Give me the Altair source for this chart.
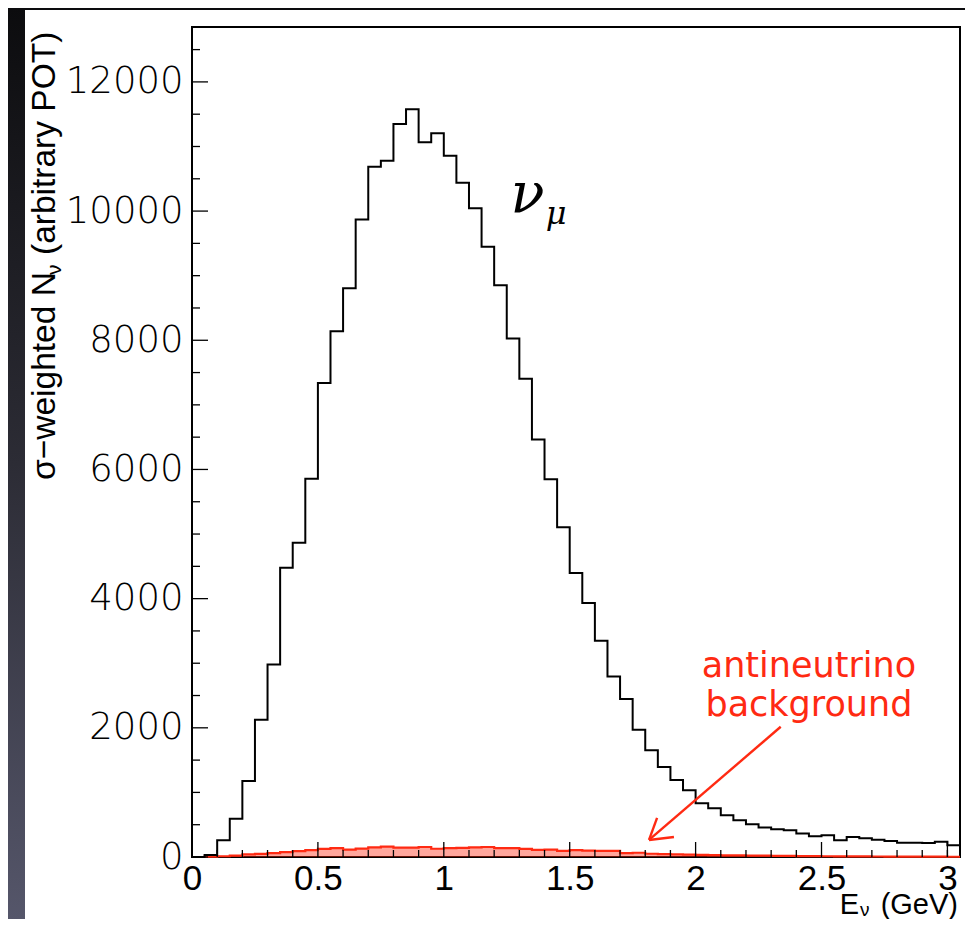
import altair as alt
import pandas as pd

# ---------------- data ----------------
BIN_WIDTH = 0.05  # GeV
numu = [0, 30, 260, 594, 1178, 2124, 2982, 4480, 4864, 5856,
        7338, 8140, 8806, 9871, 10687, 10780, 11349, 11576, 11065, 11204,
        10857, 10439, 10042, 9447, 8853, 8026, 7406, 6465, 5850, 5106,
        4395, 3933, 3349, 2796, 2445, 1969, 1654, 1395, 1194, 1034,
        833, 755, 646, 569, 507, 455, 429, 414, 362, 321,
        336, 259, 310, 290, 268, 248, 222, 222, 217, 237, 181]
anti = [0, 5, 12, 22, 40, 48, 60, 75, 90, 105,
        125, 138, 115, 130, 150, 160, 145, 145, 155, 128,
        138, 140, 150, 155, 136, 136, 126, 110, 115, 96,
        105, 100, 95, 95, 60, 66, 50, 46, 42, 37,
        32, 29, 26, 24, 22, 20, 18, 16, 15, 13,
        12, 11, 10, 9, 8, 7, 6, 6, 5, 5, 4]

x_major = [0, 0.5, 1, 1.5, 2, 2.5, 3]
x_minor = [0.1, 0.2, 0.3, 0.4, 0.6, 0.7, 0.8, 0.9, 1.1, 1.2, 1.3, 1.4,
           1.6, 1.7, 1.8, 1.9, 2.1, 2.2, 2.3, 2.4, 2.6, 2.7, 2.8, 2.9, 3.0]
y_major = [0, 2000, 4000, 6000, 8000, 10000, 12000]
y_minor = [500, 1000, 1500, 2500, 3000, 3500, 4500, 5000, 5500, 6500, 7000,
           7500, 8500, 9000, 9500, 10500, 11000, 11500, 12500]

# annotation arrow (data units): shaft and two head strokes
arrow_x = [2.338, 1.815, 1.815]
arrow_y = [2016, 264, 264]
arrow_x2 = [1.815, 1.847, 1.914]
arrow_y2 = [264, 605, 310]

red_text = ["antineutrino", "background"]
red_text_x = [2.45, 2.45]
red_text_y = [2780, 2186]

# ---------------- layout ----------------
W, H = 768, 830
RED = "#ff2a12"

n = len(numu)
edges = [round(i * BIN_WIDTH, 4) for i in range(n + 1)]
hist = pd.DataFrame({"e": edges,
                     "numu": numu + [numu[-1]],
                     "anti": anti + [anti[-1]]})

xs = alt.Scale(domain=[0, 3.05], nice=False, zero=False)
ys = alt.Scale(domain=[0, 12850], nice=False)

xaxis = alt.Axis(values=x_major, format="~g", title=None, ticks=False,
                 domain=False, grid=False, labelFont="Liberation Sans",
                 labelFontSize=35, labelColor="black", labelPadding=4,
                 labelFlush=False, labelOverlap=False, zindex=1)
yaxis = alt.Axis(values=y_major, format="d", title=None, ticks=False,
                 domain=False, grid=False, labelFont="DejaVu Sans",
                 labelFontSize=37, labelFontWeight=200, labelColor="black",
                 labelPadding=9, labelOverlap=False, zindex=1)

base = alt.Chart(hist)
anti_area = base.mark_area(interpolate="step-after", color=RED, opacity=0.42).encode(
    x=alt.X("e:Q", scale=xs, axis=xaxis),
    y=alt.Y("anti:Q", scale=ys, axis=yaxis))
anti_line = base.mark_line(interpolate="step-after", color=RED, strokeWidth=2.2).encode(
    x=alt.X("e:Q", scale=xs), y=alt.Y("anti:Q", scale=ys))
numu_line = base.mark_line(interpolate="step-after", color="black", strokeWidth=2).encode(
    x=alt.X("e:Q", scale=xs), y=alt.Y("numu:Q", scale=ys))

def xticks(vals, length):
    return alt.Chart(pd.DataFrame({"v": vals})).mark_rule(color="black", strokeWidth=1.3).encode(
        x=alt.X("v:Q", scale=xs), y=alt.value(H), y2=alt.value(H - length))

def yticks(vals, length):
    return alt.Chart(pd.DataFrame({"v": vals})).mark_rule(color="black", strokeWidth=1.3).encode(
        y=alt.Y("v:Q", scale=ys), x=alt.value(0), x2=alt.value(length))

arrow = alt.Chart(pd.DataFrame({"x": arrow_x, "y": arrow_y, "x2": arrow_x2, "y2": arrow_y2})).mark_rule(
    color=RED, strokeWidth=2.4).encode(
    x=alt.X("x:Q", scale=xs), y=alt.Y("y:Q", scale=ys), x2="x2:Q", y2="y2:Q")

red_labels = alt.Chart(pd.DataFrame({"x": red_text_x, "y": red_text_y, "t": red_text})).mark_text(
    font="DejaVu Sans", fontSize=35, color=RED, align="center",
    baseline="alphabetic").encode(
    x=alt.X("x:Q", scale=xs), y=alt.Y("y:Q", scale=ys), text="t:N")

one = pd.DataFrame({"a": [0]})

def label(text, x, y, **kw):
    return alt.Chart(one).mark_text(**kw).encode(x=alt.value(x), y=alt.value(y), text=alt.value(text))

nu_label = alt.Chart(pd.DataFrame({"x": [1.265], "y": [9984], "t": ["ν"]})).mark_text(
    font="DejaVu Serif", fontStyle="italic", fontSize=56, color="black", align="left",
    baseline="alphabetic").encode(x=alt.X("x:Q", scale=xs), y=alt.Y("y:Q", scale=ys), text="t:N")
mu_label = alt.Chart(pd.DataFrame({"x": [1.405], "y": [9800], "t": ["μ"]})).mark_text(
    font="DejaVu Serif", fontStyle="italic", fontSize=32, color="black", align="left",
    baseline="alphabetic").encode(x=alt.X("x:Q", scale=xs), y=alt.Y("y:Q", scale=ys), text="t:N")

# y axis title in three pieces (rotated), x axis title in three pieces
yt1 = label("σ−weighted N", -137, 453, angle=270, align="left", baseline="alphabetic",
            font="Liberation Sans", fontSize=33.5, color="black")
yt2 = label("ν", -131, 248, angle=270, align="left", baseline="alphabetic",
            font="Liberation Sans", fontSize=21, color="black")
yt3 = label("(arbitrary POT)", -137, 228, angle=270, align="left", baseline="alphabetic",
            font="Liberation Sans", fontSize=33.5, color="black")
xt1 = label("E", 667, 887, align="right", baseline="alphabetic",
            font="Liberation Sans", fontSize=29, color="black")
xt2 = label("ν", 668, 889, align="left", baseline="alphabetic",
            font="Liberation Sans", fontSize=19, color="black")
xt3 = label("(GeV)", 766, 887, align="right", baseline="alphabetic",
            font="Liberation Sans", fontSize=29, color="black")

left_strip = alt.Chart(one).mark_rect(
    fill=alt.Gradient(gradient="linear", x1=0, x2=0, y1=0, y2=1,
                      stops=[alt.GradientStop(color="#0c0c0e", offset=0),
                             alt.GradientStop(color="#2c2c35", offset=0.5),
                             alt.GradientStop(color="#55566a", offset=1)])).encode(
    x=alt.value(-184), x2=alt.value(-167), y=alt.value(-19), y2=alt.value(892))
top_strip = alt.Chart(one).mark_rect(color="#0c0c0e").encode(
    x=alt.value(-184), x2=alt.value(773), y=alt.value(-19), y2=alt.value(-17))

chart = alt.layer(
    anti_area, anti_line, numu_line,
    xticks(x_major, 15), xticks(x_minor, 7), yticks(y_major, 16), yticks(y_minor, 8),
    arrow, red_labels, nu_label, mu_label,
    yt1, yt2, yt3, xt1, xt2, xt3, left_strip, top_strip
).properties(
    width=W, height=H,
    autosize=alt.AutoSizeParams(type="none"),
    padding={"left": 184, "top": 19, "right": 5, "bottom": 62},
    background="white",
).configure_view(stroke="black", strokeWidth=2, fill="white")

chart.save("out.html", embed_options={"renderer": "svg", "actions": False})
